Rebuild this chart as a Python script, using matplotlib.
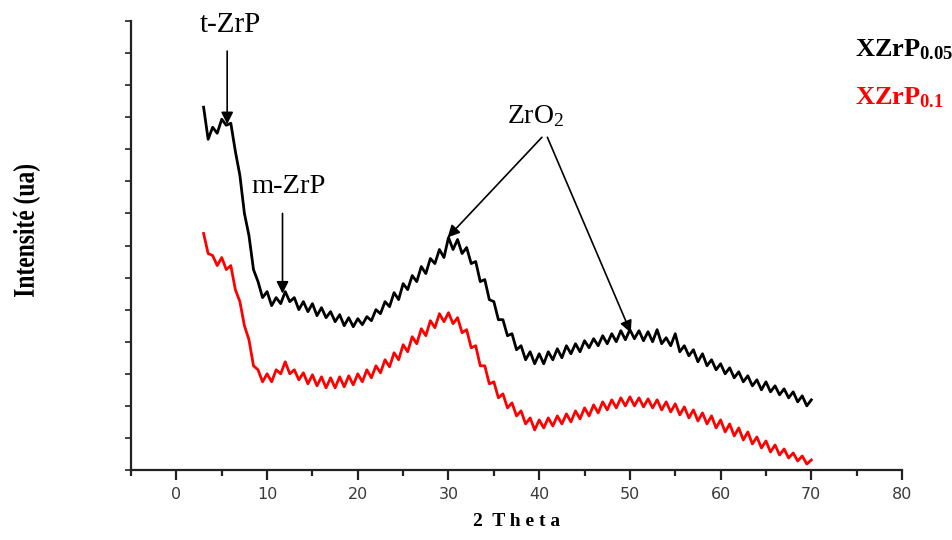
#!/usr/bin/env python3
"""XRD patterns of XZrP0.05 / XZrP0.1 samples."""

import matplotlib
matplotlib.use("Agg")
import matplotlib.pyplot as plt
import numpy as np
from matplotlib.font_manager import FontProperties
from matplotlib.patches import PathPatch
from matplotlib.textpath import TextPath
from matplotlib.transforms import Affine2D, IdentityTransform

plt.rcParams["font.family"] = ["Liberation Serif", "DejaVu Serif"]
plt.rcParams["mathtext.fontset"] = "custom"
plt.rcParams["mathtext.rm"] = "Liberation Serif"
plt.rcParams["mathtext.bf"] = "Liberation Serif:bold"
plt.rcParams["mathtext.it"] = "Liberation Serif:italic"

# 2 theta from 3 to 70 deg, step 0.5 ; intensities in arbitrary units
xzrp_005 = [
    362, 330, 342, 336, 350, 344, 346, 318, 294, 256, 234, 200, 188, 172,
    178, 164, 172, 166, 178, 168, 172, 160, 168, 158, 166, 154, 162, 152,
    158, 148, 155, 144, 152, 143, 151, 145, 153, 149, 160, 156, 168, 163,
    177, 170, 186, 180, 194, 188, 203, 196, 211, 206, 220, 212, 232, 220,
    230, 216, 222, 206, 208, 188, 190, 170, 168, 150, 150, 134, 136, 120,
    124, 110, 118, 106, 116, 106, 118, 110, 121, 112, 124, 116, 126, 118,
    129, 122, 131, 124, 134, 126, 136, 128, 139, 130, 140, 131, 139, 129,
    138, 128, 140, 126, 132, 124, 136, 118, 124, 114, 120, 108, 116, 104,
    110, 100, 106, 96, 102, 92, 98, 88, 94, 84, 90, 80, 88, 78, 84, 75,
    81, 72, 78, 68, 74, 64, 70,
]
xzrp_01 = [
    236, 216, 214, 204, 212, 200, 204, 180, 168, 144, 130, 104, 100, 88,
    96, 88, 100, 96, 108, 96, 100, 90, 97, 86, 95, 84, 93, 82, 92, 82,
    93, 83, 94, 85, 96, 88, 100, 92, 104, 97, 110, 103, 117, 110, 125, 118,
    133, 126, 141, 134, 149, 142, 156, 148, 157, 146, 152, 137, 140, 122,
    124, 104, 104, 86, 88, 72, 76, 62, 67, 54, 59, 46, 52, 40, 50, 42,
    52, 44, 54, 46, 56, 48, 59, 51, 62, 54, 65, 57, 68, 60, 70, 62, 72,
    64, 73, 64, 72, 63, 71, 62, 70, 60, 68, 58, 66, 55, 63, 52, 60, 49,
    57, 46, 54, 42, 50, 38, 46, 34, 42, 30, 38, 26, 33, 22, 29, 18, 25,
    15, 21, 12, 17, 9, 14, 6, 10,
]
series_labels = ["XZrP$_{0.05}$", "XZrP$_{0.1}$"]
series_colors = ["black", "red"]
x_ticks = [0, 10, 20, 30, 40, 50, 60, 70, 80]

fig = plt.figure(figsize=(9.53, 5.40), dpi=100)
ax = fig.add_axes([0.1375, 0.1296, 0.809, 0.8315])

for vals, col in zip([xzrp_005, xzrp_01], series_colors):
    tt = np.linspace(3, 70, len(vals))
    ax.plot(tt, vals, color=col, lw=2.0)

ax.set_xlim(-5, 80)
ax.set_ylim(0, 448)
ax.set_xticks(x_ticks)
ax.set_xticks(np.arange(-5, 80, 10), minor=True)
ax.set_yticks(np.arange(0, 449, 32))
ax.set_yticklabels([])
for s in ("top", "right"):
    ax.spines[s].set_visible(False)
for s in ("left", "bottom"):
    ax.spines[s].set_linewidth(1.6)
    ax.spines[s].set_color("#222222")
ax.tick_params(axis="x", which="major", direction="out", length=7, width=1.6,
               color="#222222", labelsize=11.5, labelcolor="#3a3a3a", pad=5)
ax.tick_params(axis="x", which="minor", direction="out", length=4.5, width=1.6,
               color="#222222")
for lbl in ax.get_xticklabels():
    lbl.set_family("DejaVu Sans")
ax.tick_params(axis="y", direction="out", length=4, width=1.2, color="#222222")
ax.set_xlabel("2  T h e t a", fontsize=14, fontweight="bold", labelpad=8)

# condensed bold y label (drawn as a squeezed text path)
tp = TextPath((0, 0), "Intensité (ua)", size=30,
              prop=FontProperties(family="Liberation Serif", weight="bold"))
ext = tp.get_extents()
tr = (Affine2D().translate(-(ext.x0 + ext.x1) / 2, -(ext.y0 + ext.y1) / 2)
      .scale(132 / ext.width, 1.0).rotate_deg(90).translate(26.5, 540 - 231))
fig.patches.append(PathPatch(tp, transform=tr + IdentityTransform(),
                             facecolor="black", edgecolor="none"))

arrow = dict(arrowstyle="-|>", color="black", lw=1.2, mutation_scale=18,
             shrinkA=0, shrinkB=0)
ax.text(5.9, 444, "t-ZrP", fontsize=21, ha="center", va="center")
ax.annotate("", xy=(5.6, 345), xytext=(5.6, 418), arrowprops=arrow)
ax.text(12.4, 283, "m-ZrP", fontsize=20.5, ha="center", va="center")
ax.annotate("", xy=(11.7, 176), xytext=(11.7, 256), arrowprops=arrow)
ax.text(39.6, 353, "ZrO$_2$", fontsize=20, ha="center", va="center")
ax.annotate("", xy=(29.9, 232), xytext=(40.3, 332), arrowprops=arrow)
ax.annotate("", xy=(50.1, 137), xytext=(40.9, 332), arrowprops=arrow)

for i, (lab, col) in enumerate(zip(series_labels, series_colors)):
    fig.text(855 / 953, 1 - (50 + 48 * i) / 540, r"$\mathbf{" + lab.replace("$", "") + "}$",
             color=col, fontsize=19, ha="left", va="center")

fig.savefig("out.png", dpi=100)
